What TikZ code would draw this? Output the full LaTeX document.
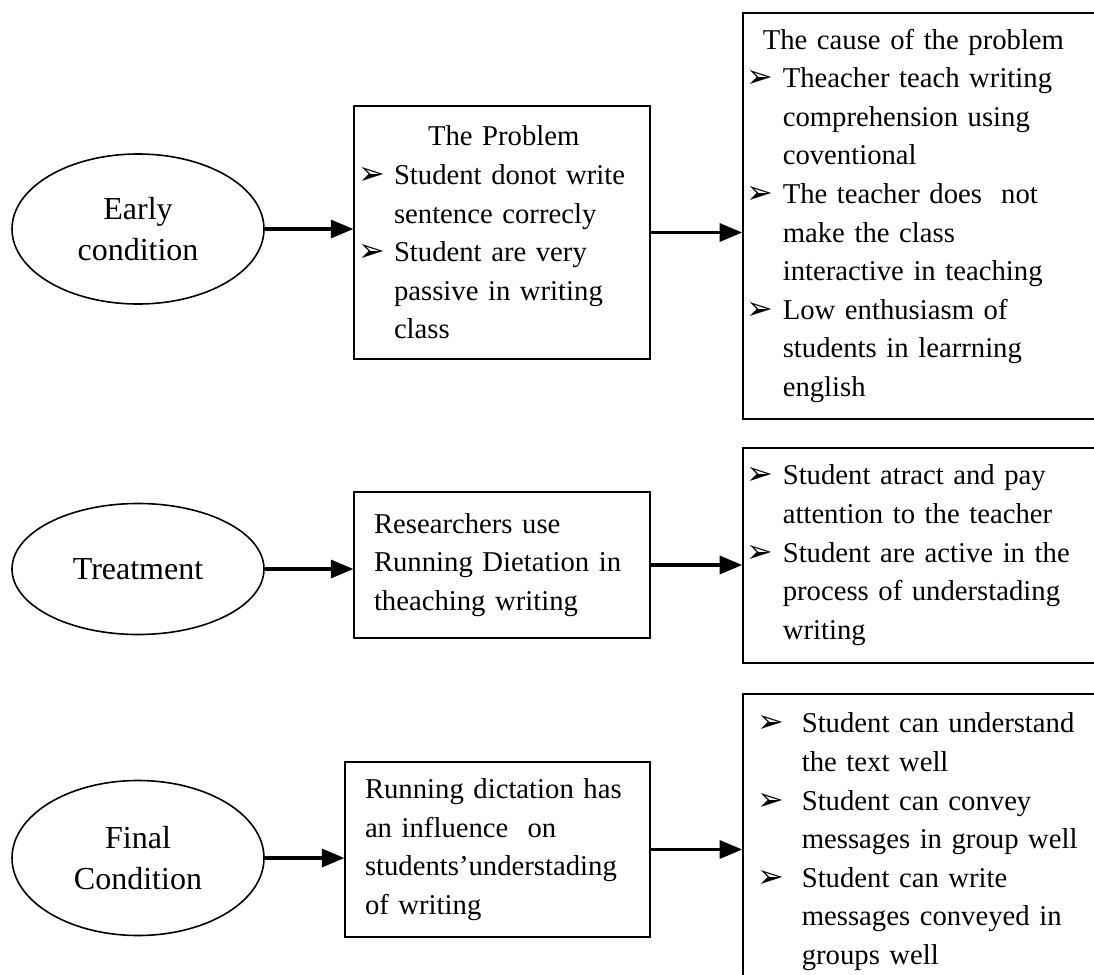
\documentclass[tikz,border=0pt]{standalone}
\usepackage{fontspec}
\setmainfont{Liberation Serif}
\newfontfamily\bulfont{DejaVu Sans}
\usetikzlibrary{arrows,shapes.geometric}
\newcommand{\arrbul}[1][18pt]{\makebox[#1][l]{\bulfont\fontsize{16}{16}\selectfont ➢}}
\newcommand{\arrpad}[1][18pt]{\hspace*{#1}}

\begin{document}
\begin{tikzpicture}[x=0.5pt,y=-0.5pt,>=triangle 45,
  cond/.style={ellipse,draw,line width=0.8pt,inner sep=0pt,align=center,
    font=\fontsize{16}{20.5}\selectfont},
  note/.style={rectangle,draw,line width=0.8pt,inner xsep=2pt,inner ysep=0pt,
    align=left,font=\fontsize{14.35}{19.3}\selectfont},
  link/.style={line width=1.6pt}]

  \clip (0,0) rectangle (1094,975);

  % early condition
  \node[cond,minimum width=126pt,minimum height=75pt] (early) at (138,229)
    {Early\\condition};
  \node[note,text width=144pt,minimum width=148pt,minimum height=126.5pt] (prob) at (502,232.5)
    {\arrpad[35pt]The Problem\\
     \arrbul Student donot write\\
     \arrpad sentence correcly\\
     \arrbul Student are very\\
     \arrpad passive in writing\\
     \arrpad class};
  \node[note,text width=180pt,minimum width=184pt,minimum height=203pt,anchor=north west] (cause) at (742,12)
    {\arrpad[8pt]The cause of the problem\\
     \arrbul Theacher teach writing\\
     \arrpad comprehension using\\
     \arrpad coventional\\
     \arrbul The teacher does~ not\\
     \arrpad make the class\\
     \arrpad interactive in teaching\\
     \arrbul Low enthusiasm of\\
     \arrpad students in learrning\\
     \arrpad english};

  % treatment
  \node[cond,minimum width=126pt,minimum height=65.5pt] (treat) at (138,569)
    {Treatment};
  \node[note,inner xsep=10pt,text width=128pt,minimum width=148pt,minimum height=73pt] (use) at (502,565)
    {Researchers use\\
     Running Dietation in\\
     theaching writing};
  \node[note,text width=180pt,minimum width=184pt,minimum height=107.5pt,anchor=north west] (effect) at (742,447)
    {\arrbul Student atract and pay\\
     \arrpad attention to the teacher\\
     \arrbul Student are active in the\\
     \arrpad process of understading\\
     \arrpad writing};

  % final condition
  \node[cond,minimum width=126pt,minimum height=77.5pt] (final) at (138,858)
    {Final\\Condition};
  \node[note,inner xsep=10pt,text width=132.5pt,minimum width=152.5pt,minimum height=87.5pt] (infl) at (497.5,849.5)
    {Running dictation has\\
     an influence~ on\\
     students'understading\\
     of writing};
  \node[note,text width=180pt,minimum width=184pt,minimum height=148pt,anchor=north west] (result) at (742,693)
    {\arrpad[5.5pt]\arrbul[22pt]{}Student can understand\\
     \arrpad[27.5pt]the text well\\
     \arrpad[5.5pt]\arrbul[22pt]{}Student can convey\\
     \arrpad[27.5pt]messages in group well\\
     \arrpad[5.5pt]\arrbul[22pt]{}Student can write\\
     \arrpad[27.5pt]messages conveyed in\\
     \arrpad[27.5pt]groups well};

  \path[->,link]
    (early.east) edge (early.east -| prob.west)
    (prob.east)  edge (prob.east -| cause.west)
    (treat.east) edge (treat.east -| use.west)
    (use.east)   edge (use.east -| effect.west)
    (final.east) edge (final.east -| infl.west)
    (infl.east)  edge (infl.east -| result.west);

\end{tikzpicture}
\end{document}
